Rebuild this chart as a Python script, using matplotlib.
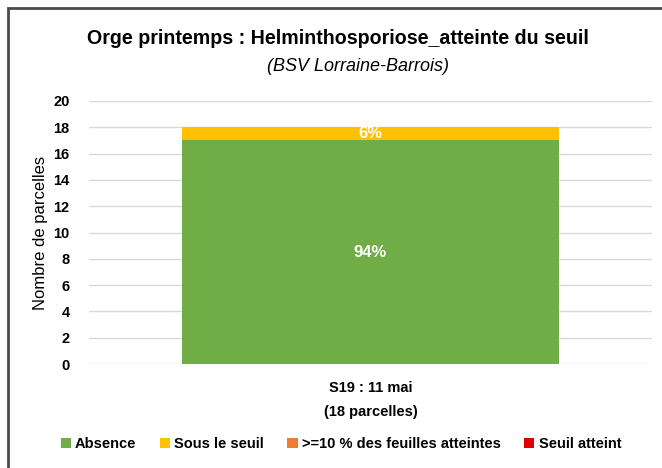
import matplotlib.pyplot as plt
from matplotlib.patches import Rectangle
import numpy as np

plt.rcParams['font.family'] = ['Liberation Sans', 'DejaVu Sans']

categories = ['S19 : 11 mai\n(18 parcelles)']
absence = [17]
sous_seuil = [1]
dix_pourcent = [0]
seuil_atteint = [0]

series = [
    ('Absence', absence, '#70AD47'),
    ('Sous le seuil', sous_seuil, '#FFC000'),
    ('>=10 % des feuilles atteintes', dix_pourcent, '#ED7D31'),
    ('Seuil atteint', seuil_atteint, '#E00000'),
]

fig = plt.figure(figsize=(6.62, 4.68), dpi=100)
ax = fig.add_axes([89 / 662, 1 - 364 / 468, (652 - 89) / 662, (364 - 101) / 468])

# frame around the chart area
fig.patches.append(Rectangle((8 / 662, -0.1), 1.2, 1 - 8 / 468 + 0.1,
                             transform=fig.transFigure, fill=False,
                             edgecolor='#4a4a4a', linewidth=2))

x = np.arange(len(categories))
totals = np.sum([s[1] for s in series], axis=0)
bottom = np.zeros(len(categories))
handles = []
for name, vals, color in series:
    vals = np.array(vals, dtype=float)
    h = ax.bar(x, vals, 0.67, bottom=bottom, color=color, label=name, zorder=3)
    handles.append(h)
    for xi, v, b, t in zip(x, vals, bottom, totals):
        if v > 0:
            ax.text(xi, b + v / 2, f'{v / t * 100:.0f}%', ha='center', va='center',
                    color='white', fontsize=12, fontweight='bold', zorder=4)
    bottom += vals

ax.set_xlim(-0.5, 0.5)
ax.set_ylim(0, 20)
ax.set_yticks(range(0, 21, 2))
ax.yaxis.grid(True, color='#d9d9d9', linewidth=1, zorder=0)
ax.set_xticks(x)
ax.set_xticklabels(categories, fontsize=10.5, fontweight='bold', linespacing=1.9)
for s in ax.spines.values():
    s.set_visible(False)
ax.tick_params(axis='both', length=0, pad=12, labelsize=10.5)
ax.tick_params(axis='y', pad=14)
for lbl in ax.get_yticklabels():
    lbl.set_fontweight('bold')
ax.set_ylabel('Nombre de parcelles', fontsize=12, labelpad=4)

fig.text(338 / 662, 1 - 38 / 468, 'Orge printemps : Helminthosporiose_atteinte du seuil',
         ha='center', va='center', fontsize=14.1, fontweight='bold')
fig.text(358 / 662, 1 - 67 / 468, '(BSV Lorraine-Barrois)',
         ha='center', va='center', fontsize=13, style='italic')

fig.legend(handles=handles, loc='center', bbox_to_anchor=(0.515, 1 - 444 / 468),
           ncol=4, frameon=False, prop={'weight': 'bold', 'size': 10.5},
           handlelength=0.7, handleheight=0.7, handletextpad=0.3, columnspacing=1.6)

fig.savefig('out.png', dpi=100)
